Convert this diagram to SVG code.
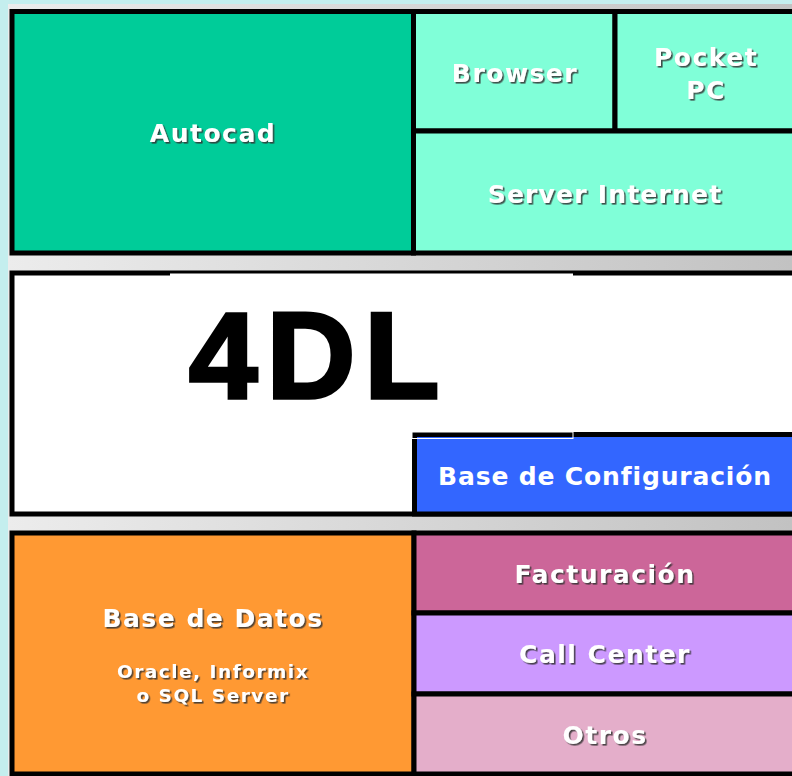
<svg xmlns="http://www.w3.org/2000/svg" width="792" height="776" viewBox="0 0 792 776">
<defs>
<linearGradient id="bg" x1="0" y1="0" x2="1" y2="0">
<stop offset="0" stop-color="#ececec"/>
<stop offset="1" stop-color="#c2c2c2"/>
</linearGradient>
<filter id="sh" x="-10%" y="-30%" width="120%" height="160%">
<feDropShadow dx="1.6" dy="1.6" stdDeviation="0.4" flood-color="#333333" flood-opacity="0.85"/>
</filter>
<style>
.box{stroke:#000;stroke-width:5}
.lbl{font-family:"DejaVu Sans",Verdana,sans-serif;font-weight:bold;fill:#fff;text-anchor:middle;letter-spacing:1.5px}
.big{font-size:25px}
.small{font-size:18.5px}
.shd{filter:url(#sh)}
.tight{letter-spacing:0.85px}
.mid{letter-spacing:1.2px}
</style>
</defs>
<rect x="0" y="0" width="792" height="776" fill="#c4eeee"/>
<rect x="8" y="4" width="784" height="772" fill="url(#bg)"/>

<g id="autocad">
<rect class="box" x="12" y="11.5" width="401.5" height="241.5" fill="#00cc99"/>
<text class="lbl big shd" x="213" y="142">Autocad</text>
</g>
<g id="browser">
<rect class="box" x="413.5" y="11.5" width="201.5" height="119.5" fill="#80ffd8"/>
<text class="lbl big shd" x="515" y="82">Browser</text>
</g>
<g id="pocketpc">
<rect class="box" x="615" y="11.5" width="182" height="119.5" fill="#80ffd8"/>
<text class="lbl big shd" x="706" y="66">Pocket</text>
<text class="lbl big shd" x="706" y="99">PC</text>
</g>
<g id="serverinternet">
<rect class="box" x="413.5" y="131" width="383.5" height="122" fill="#80ffd8"/>
<text class="lbl big shd mid" x="605" y="203">Server Internet</text>
</g>

<g id="middle">
<rect class="box" x="12" y="273" width="785" height="241" fill="#ffffff"/>
</g>
<g id="m4dl">
<rect x="170" y="273.5" width="403" height="165" fill="#ffffff"/>
<text x="189" y="398" font-family="'Liberation Sans',Arial,sans-serif" font-weight="bold" font-size="123" letter-spacing="9" fill="#000" stroke="#000" stroke-width="3.5">4DL</text>
</g>
<g id="baseconfig">
<rect class="box" x="414.5" y="434.5" width="382.5" height="79.5" fill="#3366ff"/>
<rect x="412" y="432" width="161" height="6.5" fill="none" stroke="#ffffff" stroke-width="1"/>
<text class="lbl big tight" x="605" y="485">Base de Configuración</text>
</g>

<g id="basedatos">
<rect class="box" x="12" y="533" width="402" height="241" fill="#ff9933"/>
<text class="lbl big shd" x="213" y="627">Base de Datos</text>
<text class="lbl small shd" x="213" y="678">Oracle, Informix</text>
<text class="lbl small shd" x="213" y="702">o SQL Server</text>
</g>
<g id="facturacion">
<rect class="box" x="414" y="533" width="383" height="80" fill="#cc6699"/>
<text class="lbl big shd" x="605" y="583">Facturación</text>
</g>
<g id="callcenter">
<rect class="box" x="414" y="613" width="383" height="81" fill="#cc99ff"/>
<text class="lbl big shd" x="605" y="663">Call Center</text>
</g>
<g id="otros">
<rect class="box" x="414" y="694" width="383" height="80" fill="#e4aeca"/>
<text class="lbl big shd" x="605" y="744">Otros</text>
</g>
<g id="connectors"/>
</svg>
